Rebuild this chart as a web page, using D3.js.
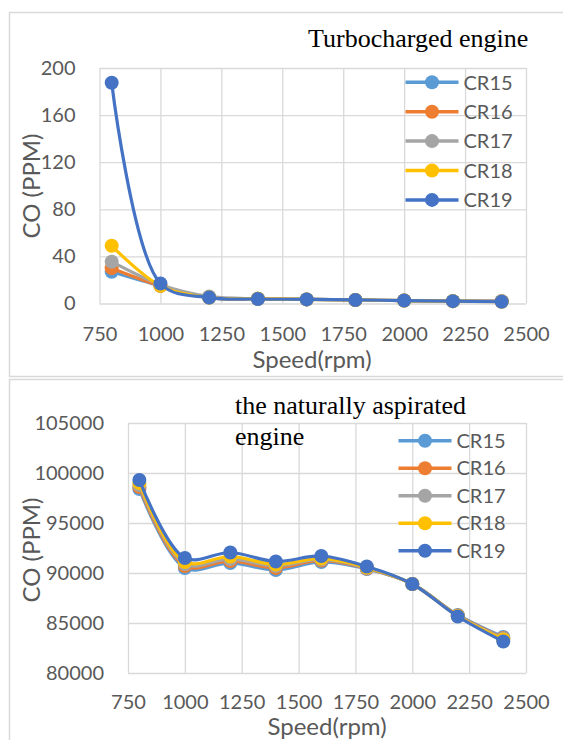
<meta charset="utf-8">
<head>
    <script type="text/javascript" src="https://cdn.jsdelivr.net/npm/d3@7/dist/d3.min.js"></script>
    <style>
        body { margin: 0; background: #ffffff; }
    </style>
</head>
<body>
    <svg width=563 height=740></svg>
</body>
<script>
    // data
    let speeds = [800, 1000, 1200, 1400, 1600, 1800, 2000, 2200, 2400];
    let seriesNames = ["CR15", "CR16", "CR17", "CR18", "CR19"];
    let seriesColors = ["#5b9bd5", "#ed7d31", "#a5a5a5", "#ffc000", "#4472c4"];
    let xTicks = [750, 1000, 1250, 1500, 1750, 2000, 2250, 2500];

    // turbocharged
    let turboCR15 = [27, 15, 5, 4, 3.5, 3, 2.5, 2, 2];
    let turboCR16 = [30, 15, 5, 4, 3.5, 3, 2.5, 2, 2];
    let turboCR17 = [35.5, 16, 6, 4, 3.5, 3, 2.5, 2, 2];
    let turboCR18 = [49, 15, 5, 4, 3.5, 3, 2.5, 2, 1.5];
    let turboCR19 = [187.5, 17, 5, 3.8, 3.5, 3, 2.5, 2, 1.5];
    let turboYTicks = [0, 40, 80, 120, 160, 200];

    // naturally aspirated
    let naCR15 = [98400, 90500, 91000, 90300, 91100, 90400, 88900, 85800, 83600];
    let naCR16 = [98600, 90700, 91200, 90500, 91250, 90450, 88900, 85750, 83500];
    let naCR17 = [98800, 90900, 91400, 90700, 91350, 90500, 88900, 85700, 83450];
    let naCR18 = [99000, 91100, 91650, 90850, 91450, 90550, 88900, 85700, 83350];
    let naCR19 = [99300, 91500, 92050, 91150, 91700, 90650, 88900, 85650, 83150];
    let naYTicks = [80000, 85000, 90000, 95000, 100000, 105000];

    let svg = d3.select('svg');
    let labelFont = "Lato, 'Liberation Sans', sans-serif";
    let textGray = "#595959";
    let gridColor = "#d9d9d9";

    function drawChart(opt) {
        let g = svg.append("g");

        // outer chart frame
        g.append("rect")
            .attr("x", opt.frame[0]).attr("y", opt.frame[1])
            .attr("width", opt.frame[2]).attr("height", opt.frame[3])
            .attr("fill", "#ffffff")
            .attr("stroke", gridColor)
            .attr("stroke-width", 1.5);

        let x = d3.scaleLinear().domain([750, 2500]).range(opt.xRange);
        let y = d3.scaleLinear().domain(opt.yDomain).range(opt.yRange);

        // gridlines
        let xGrid = d3.axisBottom(x).tickValues(xTicks)
            .tickSize(-(opt.yRange[0] - opt.yRange[1])).tickFormat("");
        g.append("g")
            .attr("transform", `translate(0, ${opt.yRange[0]})`)
            .call(xGrid)
            .call(a => a.select(".domain").remove())
            .call(a => a.selectAll("line").attr("stroke", gridColor).attr("stroke-width", 1.3));

        let yGrid = d3.axisLeft(y).tickValues(opt.yTicks)
            .tickSize(-(opt.xRange[1] - opt.xRange[0])).tickFormat("");
        g.append("g")
            .attr("transform", `translate(${opt.xRange[0]}, 0)`)
            .call(yGrid)
            .call(a => a.select(".domain").remove())
            .call(a => a.selectAll("line").attr("stroke", gridColor).attr("stroke-width", 1.3));

        // tick labels
        let xAxis = d3.axisBottom(x).tickValues(xTicks).tickSize(0).tickPadding(opt.xPad).tickFormat(d3.format("d"));
        g.append("g")
            .attr("transform", `translate(0, ${opt.yRange[0]})`)
            .call(xAxis)
            .call(a => a.select(".domain").remove())
            .call(a => a.selectAll("text")
                .attr("font-family", labelFont).attr("font-size", 20).attr("fill", textGray));

        let yAxis = d3.axisLeft(y).tickValues(opt.yTicks).tickSize(0).tickPadding(24).tickFormat(d3.format("d"));
        g.append("g")
            .attr("transform", `translate(${opt.xRange[0]}, 0)`)
            .call(yAxis)
            .call(a => a.select(".domain").remove())
            .call(a => a.selectAll("text")
                .attr("font-family", labelFont).attr("font-size", 20).attr("fill", textGray));

        // axis titles
        g.append("text")
            .attr("x", opt.xTitle[0]).attr("y", opt.xTitle[1])
            .attr("text-anchor", "middle")
            .attr("font-family", labelFont).attr("font-size", 24).attr("fill", textGray)
            .text("Speed(rpm)");

        g.append("text")
            .attr("transform", `translate(${opt.yTitle[0]}, ${opt.yTitle[1]}) rotate(-90)`)
            .attr("text-anchor", "middle")
            .attr("font-family", labelFont).attr("font-size", 24).attr("fill", textGray)
            .text("CO (PPM)");

        // chart title
        opt.title.forEach(function (t, i) {
            g.append("text")
                .attr("x", opt.titlePos[0]).attr("y", opt.titlePos[1] + i * 31)
                .attr("font-family", "'Liberation Serif', 'Times New Roman', serif")
                .attr("font-size", 26).attr("fill", "#000000")
                .text(t);
        });

        // series
        let line = d3.line()
            .x((d, i) => x(speeds[i]))
            .y(d => y(d))
            .curve(d3.curveCatmullRom.alpha(0.5));

        opt.series.forEach(function (vals, k) {
            let s = g.append("g");
            s.append("path")
                .attr("d", line(vals))
                .attr("fill", "none")
                .attr("stroke", seriesColors[k])
                .attr("stroke-width", 3.2)
                .attr("stroke-linejoin", "round");
            s.selectAll("circle")
                .data(vals)
                .enter()
                .append("circle")
                .attr("cx", (d, i) => x(speeds[i]))
                .attr("cy", d => y(d))
                .attr("r", 7)
                .attr("fill", seriesColors[k]);
        });

        // legend
        let leg = g.selectAll(".leg")
            .data(seriesNames)
            .enter()
            .append("g")
            .attr("transform", (d, i) => `translate(${opt.legend[0]}, ${opt.legend[1] + i * opt.legend[2]})`);
        leg.append("line")
            .attr("x1", 0).attr("x2", 53)
            .attr("stroke", (d, i) => seriesColors[i])
            .attr("stroke-width", 3.5);
        leg.append("circle")
            .attr("cx", 26.5).attr("r", 7)
            .attr("fill", (d, i) => seriesColors[i]);
        leg.append("text")
            .attr("x", 58).attr("dy", "0.36em")
            .attr("font-family", labelFont).attr("font-size", 20).attr("fill", textGray)
            .text(d => d);
    }

    drawChart({
        frame: [9.5, 12.5, 600, 364],
        xRange: [99.5, 526],
        yDomain: [0, 200],
        yRange: [303.5, 68],
        yTicks: turboYTicks,
        xPad: 23,
        xTitle: [312, 367.5],
        yTitle: [40, 186],
        title: ["Turbocharged engine"],
        titlePos: [308, 46.7],
        series: [turboCR15, turboCR16, turboCR17, turboCR18, turboCR19],
        legend: [405.5, 82.3, 29.4]
    });

    drawChart({
        frame: [9.5, 379.5, 600, 400],
        xRange: [128, 526],
        yDomain: [80000, 105000],
        yRange: [673, 423],
        yTicks: naYTicks,
        xPad: 22,
        xTitle: [327, 735],
        yTitle: [40, 550],
        title: ["the naturally aspirated", "engine"],
        titlePos: [235, 414],
        series: [naCR15, naCR16, naCR17, naCR18, naCR19],
        legend: [398.5, 440.7, 27.5]
    });
</script>
